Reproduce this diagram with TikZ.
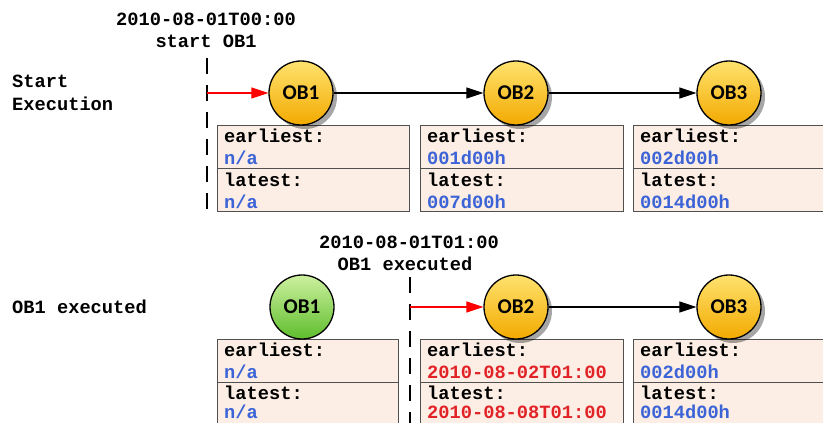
\documentclass[tikz,border=0pt]{standalone}
\usepackage{fontspec}
\setmonofont{Liberation Mono}
\newfontfamily\obfont{Carlito}
\usetikzlibrary{shadows,arrows.meta}
\definecolor{cellfill}{RGB}{252,238,228}
\definecolor{cellline}{RGB}{80,80,80}
\definecolor{valblue}{RGB}{60,100,215}
\definecolor{valred}{RGB}{225,35,40}
\definecolor{obtop}{RGB}{255,226,110}
\definecolor{obbottom}{RGB}{243,170,0}
\definecolor{donetop}{RGB}{205,240,160}
\definecolor{donebottom}{RGB}{95,190,45}
\begin{document}
\begin{tikzpicture}[x=1pt,y=1pt]
\tikzstyle{txt}=[font=\ttfamily\bfseries\fontsize{18.7}{22}\selectfont, inner sep=0pt, anchor=base west]
\tikzstyle{title}=[txt, anchor=base]
\tikzstyle{cell}=[draw=cellline, fill=cellfill, line width=1.4pt, anchor=north west, minimum height=43pt, inner sep=0pt]
\tikzstyle{ob}=[circle, draw, line width=1.3pt, minimum size=64pt, inner sep=0pt, font=\obfont\bfseries\fontsize{21}{21}\selectfont]
\tikzstyle{pending}=[ob, top color=obtop, bottom color=obbottom, drop shadow={shadow xshift=4pt, shadow yshift=-4pt, fill=black, opacity=0.35}]
\tikzstyle{done}=[ob, top color=donetop, bottom color=donebottom]
\tikzstyle{marker}=[line width=2.6pt, dash pattern=on 16pt off 11pt]
\tikzstyle{next}=[line width=1.2pt, -{Triangle[length=17pt, width=11pt]}]
\tikzstyle{trigger}=[next, red, -{Triangle[length=17pt, width=11pt]}]
\useasboundingbox (0,0) rectangle (823,-423);
\clip (0,0) rectangle (823,-423);

% start execution
\node[title] (title0a) at (206,-25) {2010-08-01T00:00};
\node[title] (title0b) at (206,-47) {start OB1};
\node[txt] (startlbl) at (12,-87) {Start};
\node[txt] (execlbl)  at (12,-110) {Execution};

\coordinate (mark0top) at (207,-58);
\coordinate (mark0bot) at (207,-213);
\coordinate (mark0)    at (207,-93);
\draw[marker] (mark0top) -- (mark0bot);

\node[cell, minimum width=192pt] (a1e) at (217,-125) {};
\node[cell, minimum width=192pt] (a1l) at (217,-168) {};
\node[cell, minimum width=203pt] (a2e) at (420,-125) {};
\node[cell, minimum width=203pt] (a2l) at (420,-168) {};
\node[cell, minimum width=203pt] (a3e) at (633,-125) {};
\node[cell, minimum width=203pt] (a3l) at (633,-168) {};

\node[txt] (a1et) at (224,-142) {earliest:};
\node[txt, valblue] (a1ev) at (224,-164) {n/a};
\node[txt] (a1lt) at (224,-186) {latest:};
\node[txt, valblue] (a1lv) at (224,-208) {n/a};
\node[txt] (a2et) at (427,-142) {earliest:};
\node[txt, valblue] (a2ev) at (427,-164) {001d00h};
\node[txt] (a2lt) at (427,-186) {latest:};
\node[txt, valblue] (a2lv) at (427,-208) {007d00h};
\node[txt] (a3et) at (640,-142) {earliest:};
\node[txt, valblue] (a3ev) at (640,-164) {002d00h};
\node[txt] (a3lt) at (640,-186) {latest:};
\node[txt, valblue] (a3lv) at (640,-208) {0014d00h};

\node[pending] (a1) at (301,-93) {OB1};
\node[pending] (a2) at (516,-93) {OB2};
\node[pending] (a3) at (729,-93) {OB3};

\draw[trigger] (mark0) -- (a1);
\draw[next] (a1) -- (a2);
\draw[next] (a2) -- (a3);

% OB1 executed
\node[title] (title1a) at (409,-248) {2010-08-01T01:00};
\node[title] (title1b) at (405,-270) {OB1 executed};
\node[txt] (donelbl) at (12,-313) {OB1 executed};

\coordinate (mark1top) at (410,-277);
\coordinate (mark1bot) at (410,-430);
\coordinate (mark1)    at (410,-307);
\draw[marker] (mark1top) -- (mark1bot);

\node[cell, minimum width=181pt] (b1e) at (217,-339) {};
\node[cell, minimum width=181pt] (b1l) at (217,-382) {};
\node[cell, minimum width=203pt] (b2e) at (420,-339) {};
\node[cell, minimum width=203pt] (b2l) at (420,-382) {};
\node[cell, minimum width=203pt] (b3e) at (633,-339) {};
\node[cell, minimum width=203pt] (b3l) at (633,-382) {};

\node[txt] (b1et) at (224,-356) {earliest:};
\node[txt, valblue] (b1ev) at (224,-378) {n/a};
\node[txt] (b1lt) at (224,-399) {latest:};
\node[txt, valblue] (b1lv) at (224,-418) {n/a};
\node[txt] (b2et) at (427,-356) {earliest:};
\node[txt, valred] (b2ev) at (427,-378) {2010-08-02T01:00};
\node[txt] (b2lt) at (427,-399) {latest:};
\node[txt, valred] (b2lv) at (427,-418) {2010-08-08T01:00};
\node[txt] (b3et) at (640,-356) {earliest:};
\node[txt, valblue] (b3ev) at (640,-378) {002d00h};
\node[txt] (b3lt) at (640,-399) {latest:};
\node[txt, valblue] (b3lv) at (640,-418) {0014d00h};

\node[done]    (b1) at (302,-307) {OB1};
\node[pending] (b2) at (516,-307) {OB2};
\node[pending] (b3) at (729,-307) {OB3};

\draw[trigger] (mark1) -- (b2);
\draw[next] (b2) -- (b3);
\end{tikzpicture}
\end{document}
